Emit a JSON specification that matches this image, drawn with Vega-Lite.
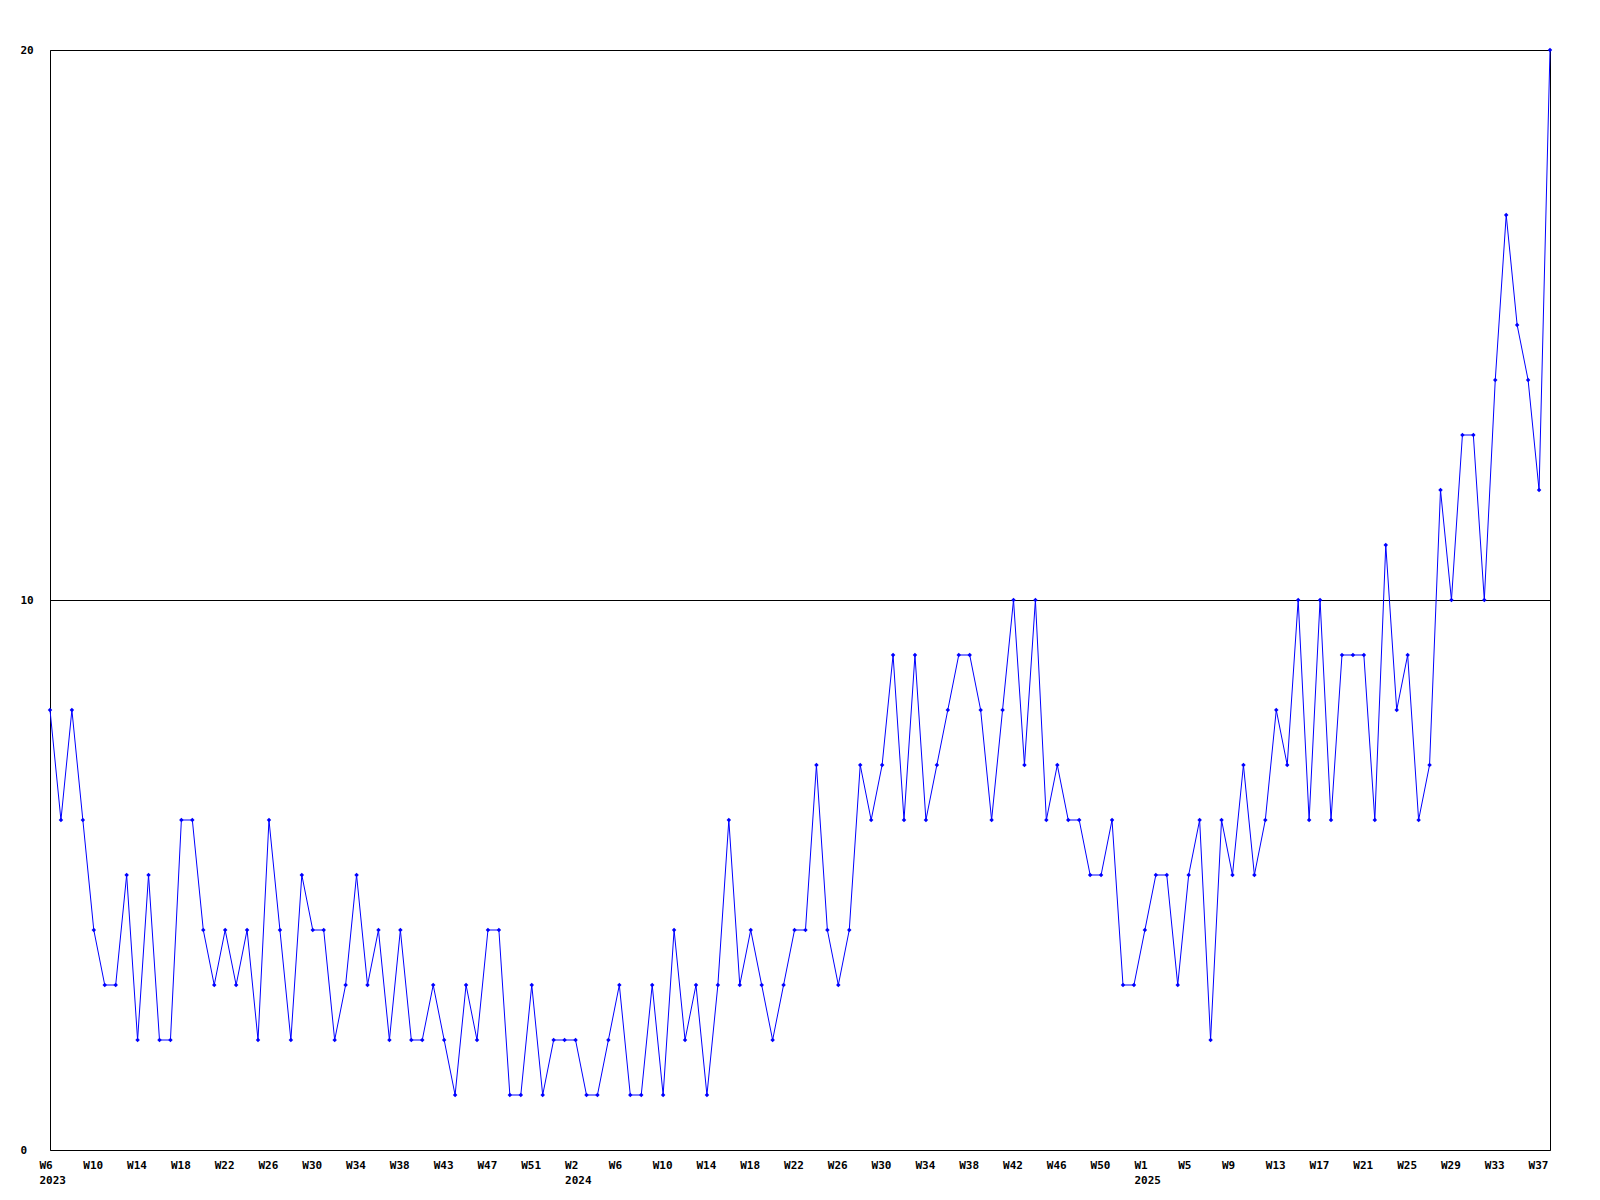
{
  "$schema": "https://vega.github.io/schema/vega-lite/v6.json",
  "width": 1500,
  "height": 1100,
  "autosize": {"type": "none"},
  "padding": {"left": 50, "top": 50, "right": 50, "bottom": 50},
  "background": "white",
  "config": {
    "view": {"stroke": "#000000", "strokeWidth": 1},
    "axis": {
      "labelFont": "DejaVu Sans Mono",
      "labelFontSize": 11,
      "labelFontWeight": "bold",
      "labelColor": "#000000",
      "domain": false,
      "ticks": false,
      "tickSize": 0,
      "title": null
    }
  },
  "data": {
    "values": [
      {"i": 0, "v": 8}, {"i": 1, "v": 6}, {"i": 2, "v": 8}, {"i": 3, "v": 6}, {"i": 4, "v": 4},
      {"i": 5, "v": 3}, {"i": 6, "v": 3}, {"i": 7, "v": 5}, {"i": 8, "v": 2}, {"i": 9, "v": 5},
      {"i": 10, "v": 2}, {"i": 11, "v": 2}, {"i": 12, "v": 6}, {"i": 13, "v": 6}, {"i": 14, "v": 4},
      {"i": 15, "v": 3}, {"i": 16, "v": 4}, {"i": 17, "v": 3}, {"i": 18, "v": 4}, {"i": 19, "v": 2},
      {"i": 20, "v": 6}, {"i": 21, "v": 4}, {"i": 22, "v": 2}, {"i": 23, "v": 5}, {"i": 24, "v": 4},
      {"i": 25, "v": 4}, {"i": 26, "v": 2}, {"i": 27, "v": 3}, {"i": 28, "v": 5}, {"i": 29, "v": 3},
      {"i": 30, "v": 4}, {"i": 31, "v": 2}, {"i": 32, "v": 4}, {"i": 33, "v": 2}, {"i": 34, "v": 2},
      {"i": 35, "v": 3}, {"i": 36, "v": 2}, {"i": 37, "v": 1}, {"i": 38, "v": 3}, {"i": 39, "v": 2},
      {"i": 40, "v": 4}, {"i": 41, "v": 4}, {"i": 42, "v": 1}, {"i": 43, "v": 1}, {"i": 44, "v": 3},
      {"i": 45, "v": 1}, {"i": 46, "v": 2}, {"i": 47, "v": 2}, {"i": 48, "v": 2}, {"i": 49, "v": 1},
      {"i": 50, "v": 1}, {"i": 51, "v": 2}, {"i": 52, "v": 3}, {"i": 53, "v": 1}, {"i": 54, "v": 1},
      {"i": 55, "v": 3}, {"i": 56, "v": 1}, {"i": 57, "v": 4}, {"i": 58, "v": 2}, {"i": 59, "v": 3},
      {"i": 60, "v": 1}, {"i": 61, "v": 3}, {"i": 62, "v": 6}, {"i": 63, "v": 3}, {"i": 64, "v": 4},
      {"i": 65, "v": 3}, {"i": 66, "v": 2}, {"i": 67, "v": 3}, {"i": 68, "v": 4}, {"i": 69, "v": 4},
      {"i": 70, "v": 7}, {"i": 71, "v": 4}, {"i": 72, "v": 3}, {"i": 73, "v": 4}, {"i": 74, "v": 7},
      {"i": 75, "v": 6}, {"i": 76, "v": 7}, {"i": 77, "v": 9}, {"i": 78, "v": 6}, {"i": 79, "v": 9},
      {"i": 80, "v": 6}, {"i": 81, "v": 7}, {"i": 82, "v": 8}, {"i": 83, "v": 9}, {"i": 84, "v": 9},
      {"i": 85, "v": 8}, {"i": 86, "v": 6}, {"i": 87, "v": 8}, {"i": 88, "v": 10}, {"i": 89, "v": 7},
      {"i": 90, "v": 10}, {"i": 91, "v": 6}, {"i": 92, "v": 7}, {"i": 93, "v": 6}, {"i": 94, "v": 6},
      {"i": 95, "v": 5}, {"i": 96, "v": 5}, {"i": 97, "v": 6}, {"i": 98, "v": 3}, {"i": 99, "v": 3},
      {"i": 100, "v": 4}, {"i": 101, "v": 5}, {"i": 102, "v": 5}, {"i": 103, "v": 3}, {"i": 104, "v": 5},
      {"i": 105, "v": 6}, {"i": 106, "v": 2}, {"i": 107, "v": 6}, {"i": 108, "v": 5}, {"i": 109, "v": 7},
      {"i": 110, "v": 5}, {"i": 111, "v": 6}, {"i": 112, "v": 8}, {"i": 113, "v": 7}, {"i": 114, "v": 10},
      {"i": 115, "v": 6}, {"i": 116, "v": 10}, {"i": 117, "v": 6}, {"i": 118, "v": 9}, {"i": 119, "v": 9},
      {"i": 120, "v": 9}, {"i": 121, "v": 6}, {"i": 122, "v": 11}, {"i": 123, "v": 8}, {"i": 124, "v": 9},
      {"i": 125, "v": 6}, {"i": 126, "v": 7}, {"i": 127, "v": 12}, {"i": 128, "v": 10}, {"i": 129, "v": 13},
      {"i": 130, "v": 13}, {"i": 131, "v": 10}, {"i": 132, "v": 14}, {"i": 133, "v": 17}, {"i": 134, "v": 15},
      {"i": 135, "v": 14}, {"i": 136, "v": 12}, {"i": 137, "v": 20}
    ]
  },
  "encoding": {
    "x": {
      "field": "i",
      "type": "quantitative",
      "scale": {"domain": [0, 137], "nice": false, "zero": false},
      "axis": {
        "values": [0, 4, 8, 12, 16, 20, 24, 28, 32, 36, 40, 44, 48, 52, 56, 60, 64, 68, 72, 76, 80, 84, 88, 92, 96, 100, 104, 108, 112, 116, 120, 124, 128, 132, 136],
        "labelExpr": "datum.value == 0 ? ['W6','2023'] : datum.value == 48 ? ['W2','2024'] : datum.value == 100 ? ['W1','2025'] : ['W6','W10','W14','W18','W22','W26','W30','W34','W38','W43','W47','W51','W2','W6','W10','W14','W18','W22','W26','W30','W34','W38','W42','W46','W50','W1','W5','W9','W13','W17','W21','W25','W29','W33','W37'][datum.value/4]",
        "labelAlign": "left",
        "labelOffset": -11,
        "labelPadding": 9,
        "labelBaseline": "top",
        "labelLineHeight": 15,
        "labelOverlap": false,
        "labelFlush": false,
        "grid": false
      }
    },
    "y": {
      "field": "v",
      "type": "quantitative",
      "scale": {"domain": [0, 20], "nice": false, "zero": true},
      "axis": {
        "values": [0, 10, 20],
        "labelAlign": "left",
        "labelPadding": 30,
        "labelBaseline": "middle",
        "grid": true,
        "gridColor": "#000000",
        "gridOpacity": 1,
        "gridWidth": 1
      }
    }
  },
  "layer": [
    {"mark": {"type": "line", "color": "#0000ff", "strokeWidth": 1}},
    {"mark": {"type": "point", "shape": "diamond", "size": 20, "filled": true, "color": "#0000ff", "opacity": 1}}
  ]
}
